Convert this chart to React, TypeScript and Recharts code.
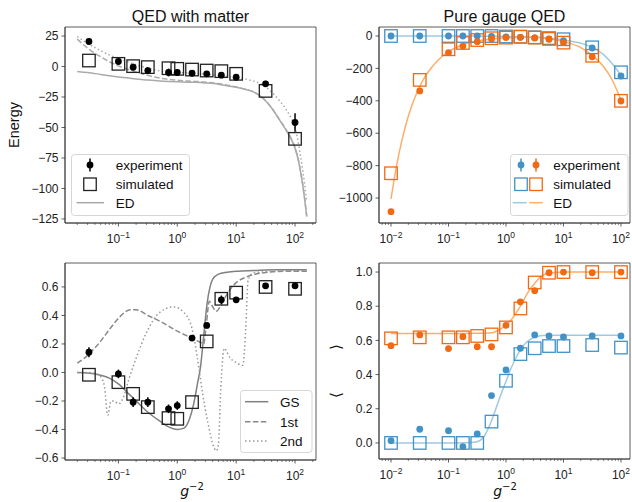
import React from 'react';
import { ComposedChart, Line, Scatter, XAxis, YAxis, ErrorBar, ReferenceArea } from 'recharts';

const FONT = '"Liberation Sans", Arial, Helvetica, sans-serif';

// g^-2 values of the measured / simulated points
const gMatter = [0.0316, 0.1, 0.178, 0.316, 0.71, 1, 1.78, 3.16, 5.6, 10, 31.6, 100];
const gGauge = [0.01, 0.0316, 0.1, 0.178, 0.316, 0.56, 1, 1.78, 3.16, 5.6, 10, 31.6, 100];

// QED with matter: energy
const matterExpE = [20.5, 4.1, -0.5, -3.3, -4.9, -4.9, -5.5, -6, -7.1, -8.8, -14.2, -45.9];
const matterExpEErr = [1.5, 2, 2.7, 2.7, 3.2, 2.5, 2, 2, 2, 2, 2.5, 7.5];
const matterSimE = [4.9, 2.2, 0.3, -0.5, -1.4, -1.9, -2.5, -3.3, -3.8, -6, -20, -59.3];

const edGridE = [0.02, 0.03, 0.05, 0.07, 0.1, 0.15, 0.2, 0.3, 0.5, 0.7, 1, 1.5, 2, 3, 5, 7, 10, 15, 20, 30, 40, 50, 70, 85, 100, 115, 130, 145, 158];
const edGsE = [-4, -5, -6.5, -7.5, -8.5, -9.5, -10.3, -11, -11.8, -12.2, -12.5, -12.8, -13, -13.5, -14.5, -15.7, -17, -19, -21, -27, -34, -41, -52, -59, -67, -78, -92, -108, -123];
const ed1stE = [22.5, 15, 8, 4, 0.5, -2.5, -4.5, -7, -9.5, -10.5, -11.3, -11.8, -12.2, -12.8, -14, -15.3, -16.8, -18.8, -20.8, -26.8, -33.8, -40.8, -51.5, -58.5, -66.5, -77.5, -91.5, -107.5, -122.5];
const ed2ndE = [24.5, 19, 13, 9.5, 6.5, 3.5, 1.5, -1, -3.5, -4.5, -5, -5.2, -5.5, -6.3, -7.3, -8.2, -9.3, -10.5, -12, -16, -21, -26, -35, -42, -50, -64, -80, -96, -111];

// QED with matter: observable
const matterExpO = [0.142, -0.01, -0.208, -0.208, -0.255, -0.232, 0.241, 0.33, 0.51, 0.51, 0.608, 0.608];
const matterExpOErr = [0.035, 0.03, 0.035, 0.035, 0.03, 0.03, 0.02, 0.02, 0.03, 0.02, 0.015, 0.015];
const matterSimO = [-0.016, -0.068, -0.15, -0.243, -0.32, -0.325, -0.208, 0.218, 0.517, 0.56, 0.6, 0.587];

const gsXO = [0.02, 0.03, 0.05, 0.07, 0.1, 0.15, 0.2, 0.3, 0.5, 0.7, 1, 1.3, 1.6, 1.9, 2.2, 2.5, 2.8, 3.2, 3.6, 4, 5, 7, 10, 20, 50, 158];
const gsO = [0, -0.003, -0.02, -0.04, -0.08, -0.15, -0.2, -0.27, -0.34, -0.38, -0.4, -0.39, -0.33, -0.22, -0.08, 0.05, 0.25, 0.48, 0.6, 0.655, 0.69, 0.703, 0.71, 0.715, 0.72, 0.72];
const firstXO = [0.02, 0.03, 0.05, 0.07, 0.1, 0.16, 0.2, 0.316, 0.56, 1, 1.78, 2.5, 2.8, 3.1, 3.5, 4, 4.6, 5.5, 7, 10, 15, 30, 70, 158];
const firstO = [0.065, 0.12, 0.22, 0.3, 0.38, 0.44, 0.44, 0.4, 0.35, 0.29, 0.24, 0.21, 0.2, 0.33, 0.5, 0.46, 0.43, 0.47, 0.55, 0.63, 0.67, 0.7, 0.71, 0.71];
const secondXO = [0.02, 0.03, 0.04, 0.05, 0.058, 0.066, 0.075, 0.085, 0.1, 0.12, 0.15, 0.2, 0.3, 0.5, 0.87, 1.3, 1.8, 2.2, 2.7, 3.3, 4, 4.6, 5, 5.5, 6.3, 7, 8, 10, 13, 14.5, 16, 20, 50, 158];
const secondO = [0, 0, -0.005, -0.03, -0.1, -0.3, -0.2, -0.2, -0.22, -0.18, -0.05, 0.1, 0.28, 0.42, 0.46, 0.42, 0.3, 0.1, -0.15, -0.35, -0.5, -0.55, -0.5, -0.1, 0.17, 0.14, 0.1, 0.07, 0.05, 0.3, 0.65, 0.7, 0.71, 0.715];

// pure gauge QED: energy (blue / orange)
const blueExpE = [0, 0, 0, 0, 0, -2, -5, -8, -12, -18, -28, -74, -247];
const blueSimE = [0, 0, 0, 0, 0, 0, -3, -5, -8, -13, -20, -70, -224];
const orangeExpE = [-1084, -339, -103, -62, -35, -18.5, -10, -8, -12, -20, -41, -128, -401];
const orangeSimE = [-847, -271, -82, -43, -25, -14, -10, -4, -10, -18, -41, -122, -400];
const gaugeErrE = [6, 5, 4, 3, 3, 3, 3, 3, 3, 3, 4, 5, 8];
const blueEdXE = [0.01, 0.03, 0.1, 0.3, 0.5, 1, 2, 3, 5, 10, 20, 31.6, 50, 70, 100];
const blueEdE = [0, 0, 0, -0.5, -1.5, -3, -5, -7.5, -12, -25, -45, -70, -115, -170, -243];
const orangeEdXE = [0.01, 0.0125, 0.0158, 0.02, 0.025, 0.0316, 0.04, 0.05, 0.07, 0.1, 0.15, 0.2, 0.3, 0.5, 1, 2, 3, 5, 10, 20, 31.6, 50, 70, 100];
const orangeEdE = [-1005, -800, -630, -495, -395, -312, -245, -197, -140, -97, -65, -48, -33, -20, -11, -7, -8, -14, -34, -72, -120, -190, -270, -395];

// pure gauge QED: observable
const blueExpO = [0.013, 0.08, 0.072, -0.022, 0.053, 0.277, 0.427, 0.554, 0.632, 0.626, 0.62, 0.626, 0.626];
const blueSimO = [0, 0, 0, 0, 0, 0.125, 0.364, 0.52, 0.554, 0.567, 0.567, 0.573, 0.558];
const orangeExpO = [0.569, 0.632, 0.552, 0.622, 0.563, 0.563, 0.688, 0.826, 0.891, 0.996, 1.0, 0.996, 1.0];
const orangeSimO = [0.612, 0.618, 0.618, 0.618, 0.626, 0.635, 0.676, 0.787, 0.939, 0.996, 1.0, 1.0, 1.0];
const gaugeErrO = [0.01, 0.01, 0.01, 0.01, 0.01, 0.01, 0.01, 0.01, 0.01, 0.01, 0.01, 0.01, 0.01];
const blueEdXO = [0.01, 0.1, 0.2, 0.3, 0.4, 0.5, 0.56, 0.7, 0.85, 1, 1.2, 1.5, 1.78, 2.2, 2.5, 3.16, 5, 10, 100];
const blueEdO = [0, 0, 0.001, 0.005, 0.03, 0.09, 0.13, 0.22, 0.3, 0.36, 0.43, 0.5, 0.545, 0.585, 0.6, 0.62, 0.63, 0.63, 0.63];
const orangeEdXO = [0.01, 0.1, 0.3, 0.56, 0.7, 1, 1.3, 1.78, 2.5, 3.16, 4, 5, 7, 10, 100];
const orangeEdO = [0.64, 0.64, 0.642, 0.645, 0.655, 0.69, 0.73, 0.8, 0.89, 0.934, 0.972, 0.99, 0.998, 1.0, 1.0];

// axes
const xDomMatter: [number, number] = [0.01239, 227];
const xDomGauge: [number, number] = [0.00618, 143.6];
const xTicksMatter = [0.02, 0.03, 0.04, 0.05, 0.06, 0.07, 0.08, 0.09, 0.1, 0.2, 0.3, 0.4, 0.5, 0.6, 0.7, 0.8, 0.9, 1, 2, 3, 4, 5, 6, 7, 8, 9, 10, 20, 30, 40, 50, 60, 70, 80, 90, 100, 200];
const xTicksGauge = [0.007, 0.008, 0.009, 0.01, 0.02, 0.03, 0.04, 0.05, 0.06, 0.07, 0.08, 0.09, 0.1, 0.2, 0.3, 0.4, 0.5, 0.6, 0.7, 0.8, 0.9, 1, 2, 3, 4, 5, 6, 7, 8, 9, 10, 20, 30, 40, 50, 60, 70, 80, 90, 100];
const yTicksTL = [-125, -100, -75, -50, -25, 0, 25];
const yTicksTR = [-1000, -800, -600, -400, -200, 0];
const yTicksBL = [-0.6, -0.4, -0.2, 0, 0.2, 0.4, 0.6];
const yTicksBR = [0, 0.2, 0.4, 0.6, 0.8, 1.0];

const BLUE = '#4292c6';
const ORANGE = '#f16913';
const BLUE_L = '#9ecae1';
const ORANGE_L = '#fdae6b';

const pts = (xs: number[], ys: number[], es?: number[]) =>
  xs.map((x, i) => ({ x, y: ys[i], e: es ? es[i] : 0 }));

const minus = (s: string) => s.replace('-', '\u2212');

const LogTick = (props: any) => {
  const { x, y, payload } = props;
  const v = payload.value;
  const lg = Math.log10(v);
  const exp = Math.round(lg);
  const major = Math.abs(lg - exp) < 1e-6;
  return (
    <g>
      <line x1={x} x2={x} y1={y} y2={y + (major ? 3.5 : 2)} stroke="#333" strokeWidth={major ? 0.8 : 0.6} />
      {major && (
        <text x={x} y={y + 20} textAnchor="middle" fontSize={12} fill="#222" fontFamily={FONT}>
          10
          <tspan dy={-5} fontSize={8.5}>{minus(String(exp))}</tspan>
        </text>
      )}
    </g>
  );
};

const dot = (color: string, r = 3.4) => (p: any) => <circle cx={p.cx} cy={p.cy} r={r} fill={color} />;
const square = (color: string, s = 12.5, w = 1.3) => (p: any) => (
  <rect x={p.cx - s / 2} y={p.cy - s / 2} width={s} height={s} fill="none" stroke={color} strokeWidth={w} />
);

const Frame = ({ xd, yd }: { xd: [number, number]; yd: [number, number] }) => (
  <ReferenceArea x1={xd[0]} x2={xd[1]} y1={yd[0]} y2={yd[1]} fill="none" stroke="#333" strokeWidth={0.8} ifOverflow="visible" />
);

const xAxisProps = (dom: [number, number], ticks: number[]) => ({
  dataKey: 'x',
  type: 'number' as const,
  scale: 'log' as const,
  domain: dom,
  allowDataOverflow: true,
  ticks,
  interval: 0 as const,
  tickLine: false,
  tickSize: 0,
  tickMargin: 0,
  tick: (p: any) => <LogTick {...p} />,
  axisLine: { stroke: '#333', strokeWidth: 0.8 },
  height: 27,
});

const yAxisProps = (dom: [number, number], ticks: number[], digits: number) => ({
  dataKey: 'y',
  type: 'number' as const,
  domain: dom,
  allowDataOverflow: true,
  ticks,
  interval: 0 as const,
  width: 50,
  tickSize: 3.5,
  tickMargin: 3,
  tickLine: { stroke: '#333', strokeWidth: 0.8 },
  axisLine: { stroke: '#333', strokeWidth: 0.8 },
  tick: { fontSize: 12, fill: '#222', fontFamily: FONT },
  tickFormatter: (v: number) => minus(v.toFixed(digits)),
});

const yDomTL: [number, number] = [-128.3, 32.4];
const yDomTR: [number, number] = [-1154, 55.5];
const yDomBL: [number, number] = [-0.614, 0.768];
const yDomBR: [number, number] = [-0.094, 1.053];

const textStyle = { fontFamily: FONT, fill: '#111' };

export default function App() {
  return (
    <div style={{ position: 'fixed', left: 0, top: 0, width: 632, height: 502, background: '#fff', overflow: 'hidden' }}>
      {/* QED with matter: energy */}
      <div style={{ position: 'absolute', left: 0, top: 0 }}>
        <ComposedChart width={320} height={250} margin={{ top: 27, right: 4, left: 15, bottom: 0 }}>
          <XAxis {...xAxisProps(xDomMatter, xTicksMatter)} />
          <YAxis {...yAxisProps(yDomTL, yTicksTL, 0)} />
          <Line data={pts(edGridE, edGsE)} dataKey="y" type="monotone" dot={false} stroke="#aaa" strokeWidth={1.5} isAnimationActive={false} />
          <Line data={pts(edGridE, ed1stE)} dataKey="y" type="monotone" dot={false} stroke="#aaa" strokeWidth={1.5} strokeDasharray="5.5 2.4" isAnimationActive={false} />
          <Line data={pts(edGridE, ed2ndE)} dataKey="y" type="monotone" dot={false} stroke="#aaa" strokeWidth={1.5} strokeDasharray="1.5 2.5" isAnimationActive={false} />
          <Scatter data={pts(gMatter, matterSimE)} dataKey="y" shape={square('#222')} isAnimationActive={false} />
          <Scatter data={pts(gMatter, matterExpE, matterExpEErr)} dataKey="y" shape={dot('#000')} isAnimationActive={false}>
            <ErrorBar dataKey="e" direction="y" width={0} stroke="#000" strokeWidth={1.5} />
          </Scatter>
          {Frame({ xd: xDomMatter, yd: yDomTL })}
        </ComposedChart>
      </div>

      {/* pure gauge QED: energy */}
      <div style={{ position: 'absolute', left: 316, top: 0 }}>
        <ComposedChart width={316} height={250} margin={{ top: 27, right: 2, left: 13, bottom: 0 }}>
          <XAxis {...xAxisProps(xDomGauge, xTicksGauge)} />
          <YAxis {...yAxisProps(yDomTR, yTicksTR, 0)} />
          <Line data={pts(blueEdXE, blueEdE)} dataKey="y" type="monotone" dot={false} stroke={BLUE_L} strokeWidth={1.5} isAnimationActive={false} />
          <Line data={pts(orangeEdXE, orangeEdE)} dataKey="y" type="monotone" dot={false} stroke={ORANGE_L} strokeWidth={1.5} isAnimationActive={false} />
          <Scatter data={pts(gGauge, blueSimE)} dataKey="y" shape={square(BLUE)} isAnimationActive={false} />
          <Scatter data={pts(gGauge, orangeSimE)} dataKey="y" shape={square(ORANGE)} isAnimationActive={false} />
          <Scatter data={pts(gGauge, blueExpE, gaugeErrE)} dataKey="y" shape={dot(BLUE)} isAnimationActive={false}>
            <ErrorBar dataKey="e" direction="y" width={0} stroke={BLUE} strokeWidth={1.5} />
          </Scatter>
          <Scatter data={pts(gGauge, orangeExpE, gaugeErrE)} dataKey="y" shape={dot(ORANGE)} isAnimationActive={false}>
            <ErrorBar dataKey="e" direction="y" width={0} stroke={ORANGE} strokeWidth={1.5} />
          </Scatter>
          {Frame({ xd: xDomGauge, yd: yDomTR })}
        </ComposedChart>
      </div>

      {/* QED with matter: observable */}
      <div style={{ position: 'absolute', left: 0, top: 250 }}>
        <ComposedChart width={320} height={252} margin={{ top: 13, right: 4, left: 15, bottom: 15 }}>
          <XAxis {...xAxisProps(xDomMatter, xTicksMatter)} />
          <YAxis {...yAxisProps(yDomBL, yTicksBL, 1)} />
          <Line data={pts(gsXO, gsO)} dataKey="y" type="monotone" dot={false} stroke="#808080" strokeWidth={1.5} isAnimationActive={false} />
          <Line data={pts(firstXO, firstO)} dataKey="y" type="monotone" dot={false} stroke="#888" strokeWidth={1.5} strokeDasharray="5.5 2.4" isAnimationActive={false} />
          <Line data={pts(secondXO, secondO)} dataKey="y" type="monotone" dot={false} stroke="#999" strokeWidth={1.5} strokeDasharray="1.5 2.5" isAnimationActive={false} />
          <Scatter data={pts(gMatter, matterSimO)} dataKey="y" shape={square('#222')} isAnimationActive={false} />
          <Scatter data={pts(gMatter, matterExpO, matterExpOErr)} dataKey="y" shape={dot('#000')} isAnimationActive={false}>
            <ErrorBar dataKey="e" direction="y" width={0} stroke="#000" strokeWidth={1.5} />
          </Scatter>
          {Frame({ xd: xDomMatter, yd: yDomBL })}
        </ComposedChart>
      </div>

      {/* pure gauge QED: observable */}
      <div style={{ position: 'absolute', left: 316, top: 250 }}>
        <ComposedChart width={316} height={252} margin={{ top: 13, right: 2, left: 13, bottom: 16 }}>
          <XAxis {...xAxisProps(xDomGauge, xTicksGauge)} />
          <YAxis {...yAxisProps(yDomBR, yTicksBR, 1)} />
          <Line data={pts(blueEdXO, blueEdO)} dataKey="y" type="monotone" dot={false} stroke={BLUE_L} strokeWidth={1.5} isAnimationActive={false} />
          <Line data={pts(orangeEdXO, orangeEdO)} dataKey="y" type="monotone" dot={false} stroke={ORANGE_L} strokeWidth={1.5} isAnimationActive={false} />
          <Scatter data={pts(gGauge, blueSimO)} dataKey="y" shape={square(BLUE)} isAnimationActive={false} />
          <Scatter data={pts(gGauge, orangeSimO)} dataKey="y" shape={square(ORANGE)} isAnimationActive={false} />
          <Scatter data={pts(gGauge, blueExpO, gaugeErrO)} dataKey="y" shape={dot(BLUE)} isAnimationActive={false}>
            <ErrorBar dataKey="e" direction="y" width={0} stroke={BLUE} strokeWidth={1.5} />
          </Scatter>
          <Scatter data={pts(gGauge, orangeExpO, gaugeErrO)} dataKey="y" shape={dot(ORANGE)} isAnimationActive={false}>
            <ErrorBar dataKey="e" direction="y" width={0} stroke={ORANGE} strokeWidth={1.5} />
          </Scatter>
          {Frame({ xd: xDomGauge, yd: yDomBR })}
        </ComposedChart>
      </div>

      {/* titles, labels and legends */}
      <svg width={632} height={502} style={{ position: 'absolute', left: 0, top: 0, pointerEvents: 'none' }}>
        <text x={190.5} y={21.5} textAnchor="middle" fontSize={16} {...textStyle}>QED with matter</text>
        <text x={504.5} y={21.5} textAnchor="middle" fontSize={16} {...textStyle}>Pure gauge QED</text>
        <text transform="translate(18.5,125) rotate(-90)" textAnchor="middle" fontSize={14.5} {...textStyle}>Energy</text>
        <text transform="translate(341,347) rotate(-90)" textAnchor="middle" fontSize={14.5} {...textStyle}>⟩</text>
        <text transform="translate(341,395) rotate(-90)" textAnchor="middle" fontSize={14.5} {...textStyle}>⟨</text>
        {[192, 505].map((cx) => (
          <text key={cx} x={cx} y={495.5} textAnchor="middle" fontSize={14} fontFamily='"DejaVu Sans", sans-serif' fill="#111">
            <tspan fontStyle="italic">g</tspan>
            <tspan dy={-6} fontSize={10}>{'\u22122'}</tspan>
          </text>
        ))}

        {/* legend: QED with matter energy */}
        <rect x={71.5} y={154.5} width={118} height={61} rx={3} fill="#fff" fillOpacity={0.85} stroke="#ccc" strokeWidth={0.8} />
        <line x1={90} x2={90} y1={158.5} y2={171.5} stroke="#000" strokeWidth={1.5} />
        <circle cx={90} cy={165} r={3.4} fill="#000" />
        <rect x={83.75} y={178} width={12.5} height={12.5} fill="none" stroke="#222" strokeWidth={1.3} />
        <line x1={76.5} x2={104} y1={202.7} y2={202.7} stroke="#aaa" strokeWidth={1.5} />
        <text x={115.7} y={169.5} fontSize={13.5} {...textStyle}>experiment</text>
        <text x={115.7} y={189} fontSize={13.5} {...textStyle}>simulated</text>
        <text x={115.7} y={207.5} fontSize={13.5} {...textStyle}>ED</text>

        {/* legend: pure gauge energy */}
        <rect x={510.5} y={154.5} width={117.5} height={61} rx={3} fill="#fff" fillOpacity={0.85} stroke="#ccc" strokeWidth={0.8} />
        <line x1={521} x2={521} y1={158.5} y2={171.5} stroke={BLUE} strokeWidth={1.5} />
        <circle cx={521} cy={165} r={3.4} fill={BLUE} />
        <line x1={536} x2={536} y1={158.5} y2={171.5} stroke={ORANGE} strokeWidth={1.5} />
        <circle cx={536} cy={165} r={3.4} fill={ORANGE} />
        <rect x={514.75} y={178} width={12.5} height={12.5} fill="none" stroke={BLUE} strokeWidth={1.3} />
        <rect x={529.75} y={178} width={12.5} height={12.5} fill="none" stroke={ORANGE} strokeWidth={1.3} />
        <line x1={512.7} x2={526.7} y1={202.7} y2={202.7} stroke={BLUE_L} strokeWidth={1.5} />
        <line x1={529.3} x2={542.7} y1={202.7} y2={202.7} stroke={ORANGE_L} strokeWidth={1.5} />
        <text x={553.3} y={169.5} fontSize={13.5} {...textStyle}>experiment</text>
        <text x={553.3} y={189} fontSize={13.5} {...textStyle}>simulated</text>
        <text x={553.3} y={207.5} fontSize={13.5} {...textStyle}>ED</text>

        {/* legend: matter observable */}
        <rect x={240.5} y={390.5} width={71.5} height={62} rx={3} fill="#fff" fillOpacity={0.85} stroke="#ccc" strokeWidth={0.8} />
        <line x1={245} x2={268.3} y1={401.7} y2={401.7} stroke="#808080" strokeWidth={1.5} />
        <line x1={245} x2={268.3} y1={421.7} y2={421.7} stroke="#888" strokeWidth={1.5} strokeDasharray="5.5 2.4" />
        <line x1={245} x2={268.3} y1={441} y2={441} stroke="#999" strokeWidth={1.5} strokeDasharray="1.5 2.5" />
        <text x={280} y={406.5} fontSize={13.5} {...textStyle}>GS</text>
        <text x={280} y={426.5} fontSize={13.5} {...textStyle}>1st</text>
        <text x={280} y={445.8} fontSize={13.5} {...textStyle}>2nd</text>
      </svg>
    </div>
  );
}
